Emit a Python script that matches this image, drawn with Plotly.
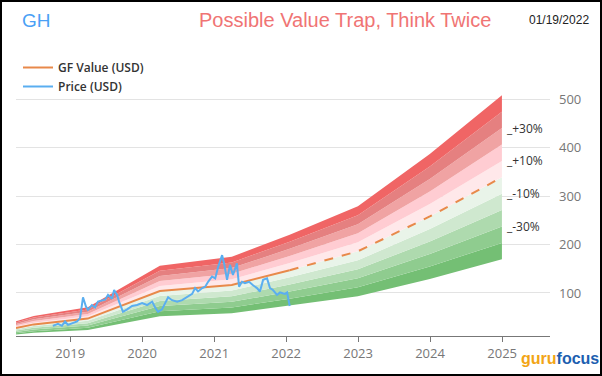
import plotly.graph_objects as go

# ---- data ----
gf_dates = ["2018-04-01", "2018-06-30", "2019-03-31", "2020-03-31", "2021-03-31",
            "2022-01-19", "2022-12-31", "2023-12-31", "2024-12-31"]
gf_values = [27.7, 35, 47, 104, 116.5, 147, 186, 258, 339]
gf_today_index = 5  # solid up to here, dashed after

price_dates = ["2018-10-05", "2018-10-31", "2018-11-20", "2018-12-06", "2018-12-21", "2019-01-10",
               "2019-02-05", "2019-02-20", "2019-03-07", "2019-03-22", "2019-04-01", "2019-04-21",
               "2019-05-07", "2019-05-22", "2019-06-11", "2019-06-27", "2019-07-12", "2019-08-01",
               "2019-08-12", "2019-08-27", "2019-09-06", "2019-09-26", "2019-10-17", "2019-11-11",
               "2019-12-06", "2020-01-01", "2020-01-26", "2020-02-21", "2020-03-07", "2020-03-22",
               "2020-04-11", "2020-04-27", "2020-05-12", "2020-06-01", "2020-06-27", "2020-07-22",
               "2020-08-16", "2020-09-11", "2020-09-26", "2020-10-11", "2020-11-01", "2020-11-16",
               "2020-12-01", "2020-12-21", "2021-01-06", "2021-01-21", "2021-02-10", "2021-02-20",
               "2021-03-07", "2021-03-22", "2021-04-06", "2021-04-26", "2021-05-07", "2021-05-22",
               "2021-06-06", "2021-06-27", "2021-07-17", "2021-08-06", "2021-08-21", "2021-09-06",
               "2021-09-26", "2021-10-11", "2021-10-26", "2021-11-16", "2021-12-01", "2021-12-26",
               "2022-01-06", "2022-01-19"]
price_values = [32, 36, 32, 41, 34, 37,
                41, 48, 91, 72, 65, 75,
                70, 82, 85, 86, 96, 88,
                106, 96, 82, 61, 66, 73,
                75, 79, 75, 82, 70, 61,
                66, 79, 91, 85, 82, 85,
                91, 98, 110, 103, 110, 113,
                123, 134, 130, 154, 178, 161,
                127, 158, 137, 161, 113, 123,
                120, 123, 116, 110, 103, 127,
                130, 110, 106, 96, 101, 98,
                101, 73]

band_levels = [-0.5, -0.4, -0.3, -0.2, -0.1, 0.0, 0.1, 0.2, 0.3, 0.4, 0.5]
band_colors = ["#74bf74", "#8fcc8f", "#aedaae", "#cfe8cf", "#e9f4e9",
               "#ffe8ea", "#ffccd2", "#f0a3a3", "#e58080", "#f06565"]
band_labels = ["+30%", "+10%", "-10%", "-30%"]
band_label_levels = [0.3, 0.1, -0.1, -0.3]

y_ticks = [100, 200, 300, 400, 500, 600]
y_tick_text = ["100", "200", "300", "400", "500", ""]

# ---- figure ----
fig = go.Figure()

for i, lvl in enumerate(band_levels):
    ys = [v * (1 + lvl) for v in gf_values]
    fig.add_trace(go.Scatter(
        x=gf_dates, y=ys, mode="lines", line=dict(width=0, color="rgba(0,0,0,0)"),
        fill=None if i == 0 else "tonexty",
        fillcolor=None if i == 0 else band_colors[i - 1],
        showlegend=False, hoverinfo="skip"))

fig.add_trace(go.Scatter(
    x=gf_dates[gf_today_index:], y=gf_values[gf_today_index:], mode="lines",
    line=dict(color="#e8894a", width=2, dash="dash"), showlegend=False))
fig.add_trace(go.Scatter(
    x=gf_dates[:gf_today_index + 1], y=gf_values[:gf_today_index + 1], mode="lines",
    line=dict(color="#e8894a", width=2), name="GF Value (USD)"))
fig.add_trace(go.Scatter(
    x=price_dates, y=price_values, mode="lines",
    line=dict(color="#5aaef0", width=2), name="Price (USD)"))

L, R, T, B = 16, 52, 51, 40
W, H = 602, 376
pw, ph = W - L - R, H - T - B


def px(xp):
    return (xp - L) / pw


def py(yp):
    return (H - B - yp) / ph


annotations = [
    dict(text="GH", x=px(20), y=py(20), xanchor="left", yanchor="middle",
         font=dict(family="Arial", size=19, color="#4a9ff5")),
    dict(text="Possible Value Trap, Think Twice", x=px(345), y=py(20), xanchor="center",
         yanchor="middle", font=dict(family="Arial", size=20, color="#f07474")),
    dict(text="01/19/2022", x=px(591), y=py(20), xanchor="right", yanchor="middle",
         font=dict(family="Arial", size=12, color="#222222")),
    dict(text="<b><span style='color:#f2a516'>guru</span><span style='color:#1d5fb0'>focus</span></b>",
         x=px(560), y=py(358), xanchor="center", yanchor="middle",
         font=dict(family="Arial", size=16)),
]
last_gf = gf_values[-1]
for lab, lvl in zip(band_labels, band_label_levels):
    annotations.append(dict(text="_" + lab, x=px(504), y=last_gf * (1 + lvl), yref="y",
                            xanchor="left", yanchor="middle",
                            font=dict(family="Open Sans", size=12, color="#333333")))
for a in annotations:
    a.setdefault("xref", "paper")
    a.setdefault("yref", "paper")
    a["showarrow"] = False

fig.update_layout(
    width=W, height=H, margin=dict(l=L, r=R, t=T, b=B),
    paper_bgcolor="white", plot_bgcolor="white",
    font=dict(family="Open Sans", color="#666666"),
    showlegend=True,
    legend=dict(x=px(18), y=py(53), xanchor="left", yanchor="top", traceorder="normal",
                bgcolor="rgba(255,255,255,0)", font=dict(size=12, color="#333333", weight=600),
                tracegroupgap=0, itemwidth=30),
    xaxis=dict(type="date", range=["2018-04-01", "2025-09-01"],
               tick0="2019-01-01", dtick="M12", tickformat="%Y",
               showgrid=False, showline=True, linecolor="#777777", linewidth=1,
               ticks="outside", ticklen=5, tickcolor="#777777",
               tickfont=dict(size=13, color="#777777"), zeroline=False),
    yaxis=dict(side="right", range=[11, 600], tickvals=y_ticks, ticktext=y_tick_text,
               showgrid=True, gridcolor="#e3e3e3", gridwidth=1, zeroline=False,
               ticks="", ticklabelstandoff=8,
               tickfont=dict(size=13, color="#777777")),
    annotations=annotations,
    shapes=[dict(type="rect", xref="paper", yref="paper",
                 x0=px(1), x1=px(601), y0=py(375), y1=py(1),
                 line=dict(color="black", width=2), fillcolor="rgba(0,0,0,0)")],
)

fig.write_html("out.html", config={"displayModeBar": False},
               post_script="document.body.style.margin='0';document.body.style.padding='0';")
